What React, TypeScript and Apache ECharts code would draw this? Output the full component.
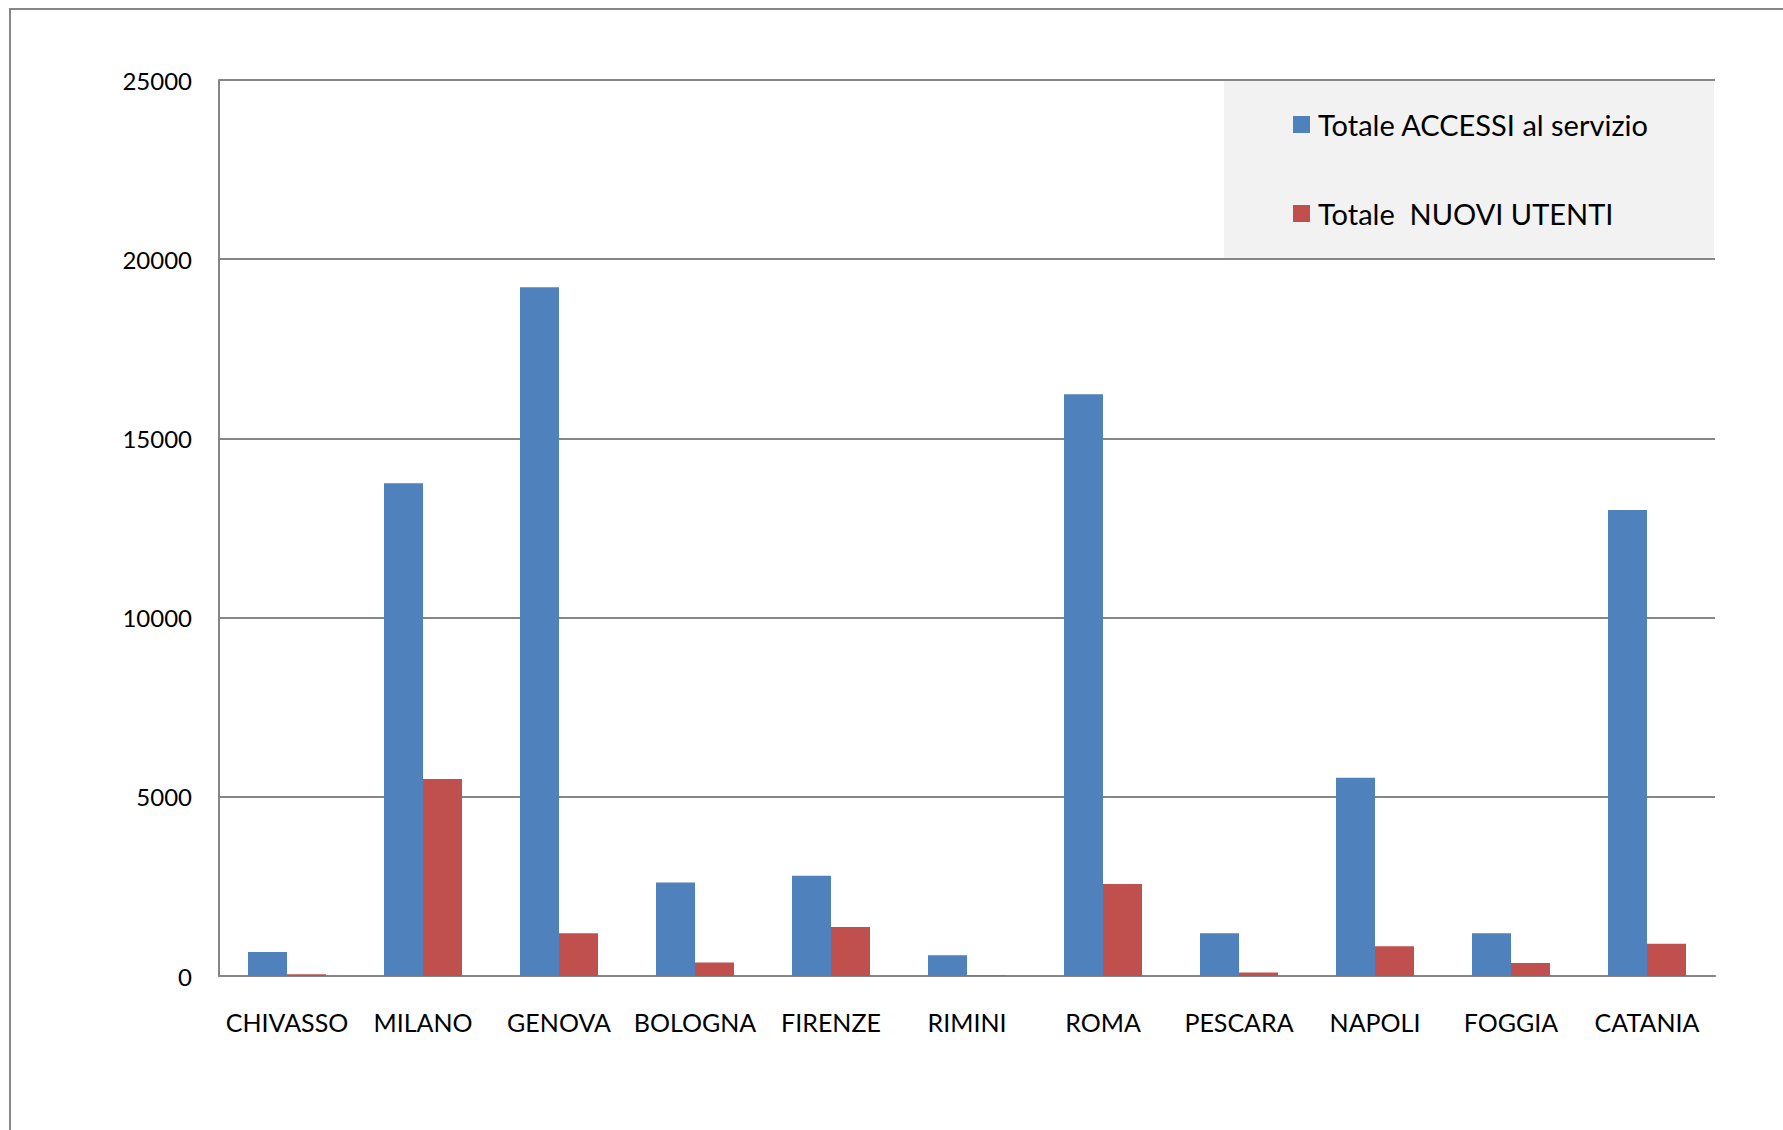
import React, { useEffect, useRef } from "react";
import * as echarts from "echarts";

// Cities on the category axis
const cities = [
  "CHIVASSO",
  "MILANO",
  "GENOVA",
  "BOLOGNA",
  "FIRENZE",
  "RIMINI",
  "ROMA",
  "PESCARA",
  "NAPOLI",
  "FOGGIA",
  "CATANIA",
];

// Total accesses to the service, per city
const totaleAccessi = [670, 13750, 19220, 2610, 2800, 580, 16230, 1190, 5530, 1190, 13000];

// Total new users, per city
const totaleNuoviUtenti = [50, 5500, 1190, 380, 1370, 15, 2570, 95, 830, 360, 900];

const seriesNames = ["Totale ACCESSI al servizio", "Totale  NUOVI UTENTI"];
const yTicks = { min: 0, max: 25000, interval: 5000 };

const FONT = "Lato, 'Open Sans', sans-serif";
const GRAY = "#868686";

export default function App() {
  const ref = useRef<HTMLDivElement | null>(null);

  useEffect(() => {
    if (!ref.current) return;
    const chart = echarts.init(ref.current, null, { renderer: "svg" });
    chart.setOption({
      animation: false,
      backgroundColor: "#ffffff",
      textStyle: { fontFamily: FONT, color: "#000000" },
      graphic: [
        {
          type: "rect",
          z: -10,
          shape: { x: 10, y: 9, width: 1850, height: 1200 },
          style: { fill: "none", stroke: GRAY, lineWidth: 2 },
        },
        {
          type: "rect",
          z: -5,
          shape: { x: 1224, y: 81, width: 490, height: 177 },
          style: { fill: "#f2f2f2" },
        },
      ],
      grid: { left: 219, right: 68, top: 80, bottom: 154, containLabel: false },
      legend: {
        orient: "vertical",
        left: 1288,
        top: 103,
        itemWidth: 17,
        itemHeight: 17,
        itemGap: 56,
        icon: "rect",
        data: seriesNames,
        textStyle: {
          fontFamily: FONT,
          fontSize: 29,
          color: "#000000",
          lineHeight: 33,
          padding: [0, 0, 0, 3],
        },
      },
      xAxis: {
        type: "category",
        data: cities,
        axisLine: { show: true, lineStyle: { color: GRAY, width: 2 } },
        axisTick: { show: false },
        axisLabel: { margin: 33, fontSize: 25, fontFamily: FONT, color: "#000000", interval: 0 },
      },
      yAxis: {
        type: "value",
        min: yTicks.min,
        max: yTicks.max,
        interval: yTicks.interval,
        axisLine: { show: true, lineStyle: { color: GRAY, width: 2 } },
        axisTick: { show: false },
        splitLine: { show: true, lineStyle: { color: GRAY, width: 2 } },
        axisLabel: {
          margin: 27,
          fontSize: 24,
          fontFamily: FONT,
          color: "#000000",
          formatter: (v: number) => String(v),
        },
      },
      series: [
        {
          name: seriesNames[0],
          type: "bar",
          data: totaleAccessi,
          barWidth: 39,
          barGap: "0%",
          itemStyle: { color: "#4f81bd" },
        },
        {
          name: seriesNames[1],
          type: "bar",
          data: totaleNuoviUtenti,
          barWidth: 39,
          barGap: "0%",
          itemStyle: { color: "#c0504d" },
        },
      ],
    });
    return () => chart.dispose();
  }, []);

  return (
    <div
      ref={ref}
      style={{ position: "fixed", left: 0, top: 0, width: 1783, height: 1130 }}
    />
  );
}
